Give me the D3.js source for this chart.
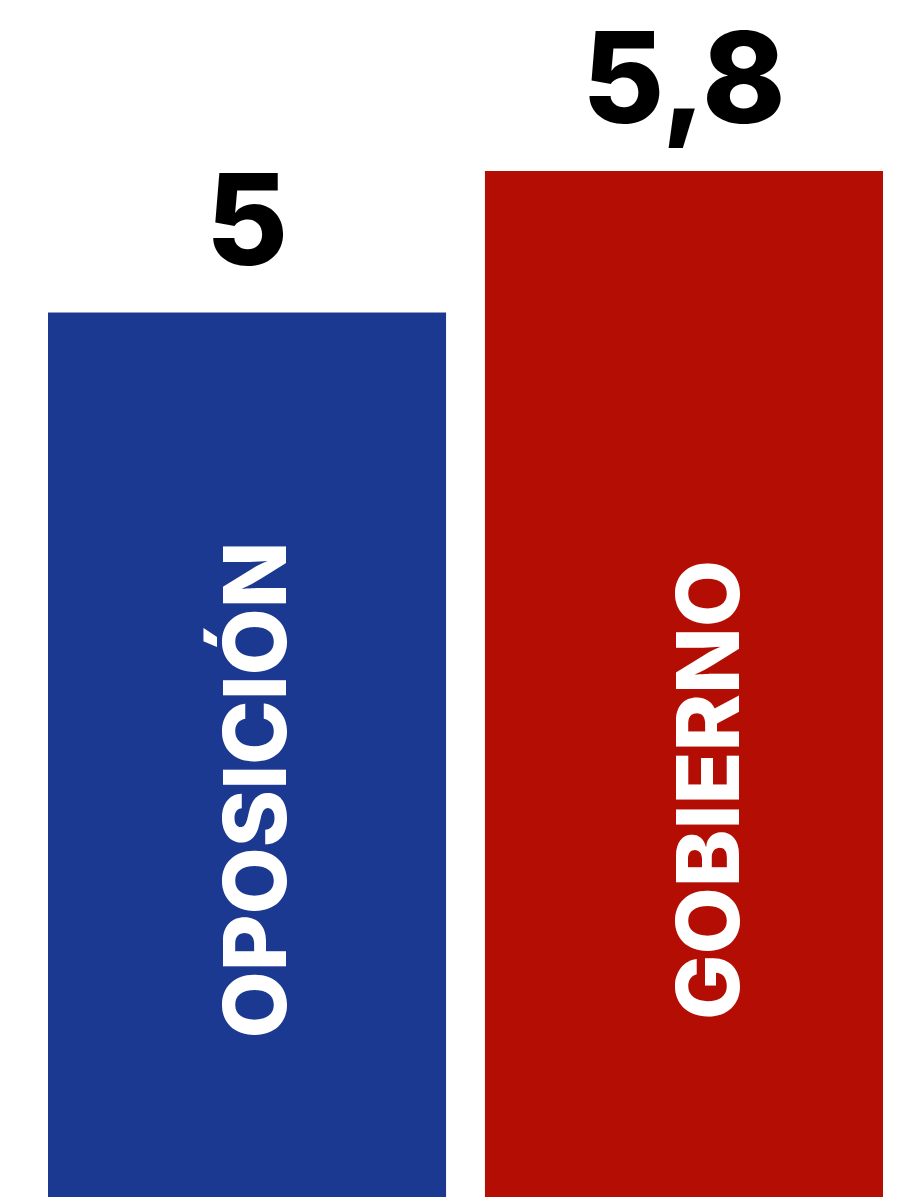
<!DOCTYPE html>
<html>
<head>
<meta charset="utf-8">
<script src="https://cdn.jsdelivr.net/npm/d3@7"></script>
<style>
	html, body { margin: 0; padding: 0; background: #fff; }
	svg { display: block; }
	text { font-family: Inter, "Open Sans", sans-serif; }
</style>
</head>
<body>
<div id="chart"></div>
<script>
var categories = ["OPOSICIÓN", "GOBIERNO"];
var values = [5, 5.8];
var valueLabels = ["5", "5,8"];
var colors = ["#1b3990", "#b40e04"];

var width = 907;
var height = 1197;

var svg = d3.select("#chart").append("svg")
	.attr("width", width)
	.attr("height", height);

var x = d3.scaleBand()
	.domain(categories)
	.range([48, 883])
	.paddingInner(0.089);

var y = d3.scaleLinear()
	.domain([0, 5.8])
	.range([height, 171]);

var data = categories.map(function(c, i) {
	return {name: c, value: values[i], label: valueLabels[i], color: colors[i]};
});

// nudge of the rotated label from the bar centre
var labelShift = {"OPOSICIÓN": 39, "GOBIERNO": 55};

var bar = svg.selectAll("g.bar")
	.data(data)
	.enter().append("g")
	.attr("class", "bar");

bar.append("rect")
	.attr("x", function(d) { return x(d.name); })
	.attr("y", function(d) { return y(d.value); })
	.attr("width", x.bandwidth())
	.attr("height", function(d) { return height - y(d.value); })
	.attr("fill", function(d) { return d.color; });

bar.append("text")
	.attr("x", function(d) { return x(d.name) + x.bandwidth() / 2; })
	.attr("y", function(d) { return y(d.value) - 48; })
	.attr("text-anchor", "middle")
	.attr("font-size", 126)
	.attr("font-weight", 800)
	.attr("fill", "#000")
	.text(function(d) { return d.label; });

bar.append("text")
	.attr("transform", function(d) {
		var cx = x(d.name) + x.bandwidth() / 2 + labelShift[d.name];
		return "translate(" + cx + ",790) rotate(-90)";
	})
	.attr("text-anchor", "middle")
	.attr("font-size", 87)
	.attr("font-weight", 800)
	.attr("fill", "#fff")
	.text(function(d) { return d.name; });
</script>
</body>
</html>
